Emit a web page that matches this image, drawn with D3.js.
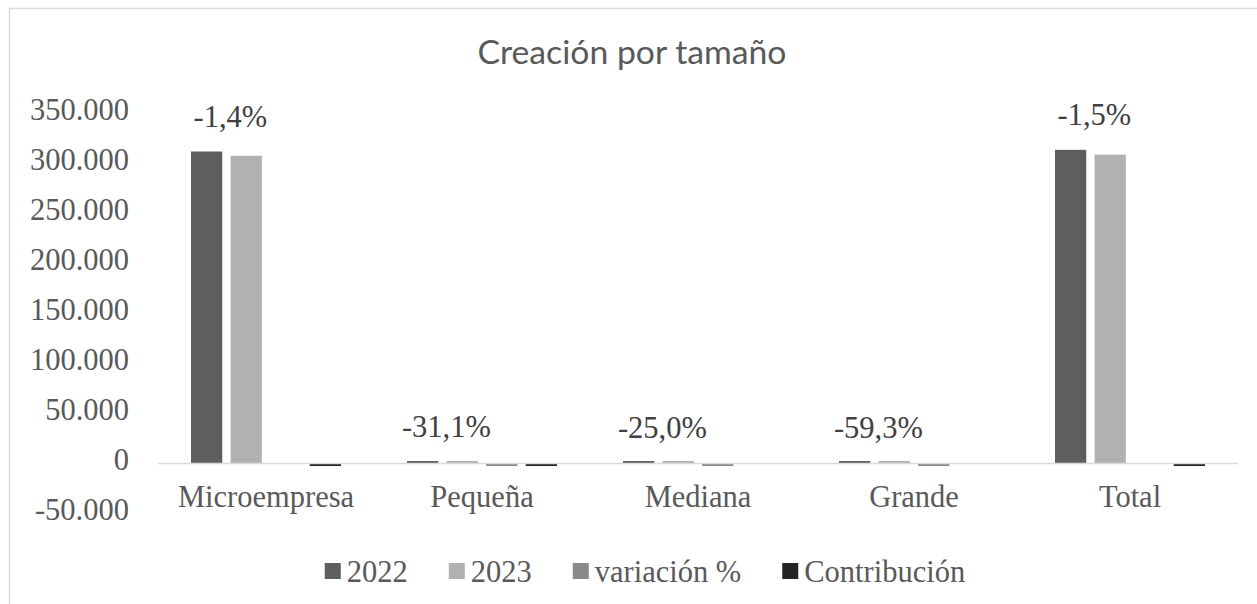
<!DOCTYPE html>
<html lang="es">
  <head>
    <meta charset="UTF-8" />
    <title>Creación por tamaño</title>
    <script src="https://d3js.org/d3.v7.min.js"></script>
    <style>
      body { margin: 0; background: #fff; }
    </style>
  </head>
  <body>
    <div id="chart"></div>
    <script>
      // datos
      var categories = ["Microempresa", "Pequeña", "Mediana", "Grande", "Total"];
      var series = ["2022", "2023", "variación %", "Contribución"];
      var values2022 = [312000, 1400, 220, 27, 313647];
      var values2023 = [307700, 965, 165, 11, 308841];
      var variation = [-0.014, -0.311, -0.25, -0.593, -0.015]; // fracción
      var contribution = [-1.37, -0.14, -0.02, -0.01, -1.53]; // puntos porcentuales
      var yTicks = [-50000, 0, 50000, 100000, 150000, 200000, 250000, 300000, 350000];

      var colors = ["#5e5e5e", "#b1b1b1", "#8a8a8a", "#232323"];
      var serif = "'Liberation Serif', 'Times New Roman', serif";

      var W = 1257, H = 604;
      var svg = d3.select("#chart").append("svg")
        .attr("width", W).attr("height", H);

      // borde del área del gráfico (recortado a la derecha y abajo)
      svg.append("rect")
        .attr("x", 9.5).attr("y", 8.5)
        .attr("width", 1400).attr("height", 800)
        .attr("fill", "#fff").attr("stroke", "#d9d9d9").attr("stroke-width", 1.5);

      // titulo
      svg.append("text")
        .attr("x", 632).attr("y", 64)
        .attr("text-anchor", "middle")
        .attr("font-family", "Lato, 'Open Sans', sans-serif")
        .attr("font-size", 32)
        .attr("fill", "#595959")
        .attr("textLength", 309)
        .attr("lengthAdjust", "spacingAndGlyphs")
        .text("Creación por tamaño");

      var x0 = d3.scaleBand().domain(categories).range([158, 1238]);
      var x1 = d3.scaleBand().domain(series).range([33, 183]).paddingInner(0.21);
      var y = d3.scaleLinear().domain([-50000, 350000]).range([513.5, 113.5]);

      var loc = d3.formatLocale({ decimal: ",", thousands: ".", grouping: [3], currency: ["", ""], minus: "-" });
      var fmt = loc.format(",.0f");

      // eje Y
      var gY = svg.append("g")
        .attr("transform", "translate(129,0)")
        .call(d3.axisLeft(y).tickValues(yTicks).tickSize(0).tickPadding(0).tickFormat(fmt));
      gY.select(".domain").remove();
      gY.selectAll("text")
        .attr("font-size", 30.5)
        .attr("font-family", serif)
        .attr("fill", "#595959")
        .attr("dy", "0.2em");

      // barras
      var rows = categories.map(function (c, i) {
        return { cat: c, vals: [values2022[i], values2023[i], variation[i], contribution[i]] };
      });
      var minVisible = 0.1; // Excel aún pinta una línea fina para estos valores diminutos
      function barH(v) {
        var h = Math.abs(y(v) - y(0));
        if (Math.abs(v) < minVisible) return 0;
        return Math.max(h, 2.5);
      }
      var groups = svg.append("g").selectAll("g")
        .data(rows).enter().append("g")
        .attr("transform", function (d) { return "translate(" + x0(d.cat) + ",0)"; });
      groups.selectAll("rect")
        .data(function (d) { return d.vals.map(function (v, j) { return { s: series[j], v: v, j: j }; }); })
        .enter().append("rect")
        .attr("x", function (d) { return x1(d.s); })
        .attr("width", x1.bandwidth())
        .attr("y", function (d) { return d.v >= 0 ? y(0) - barH(d.v) : y(0); })
        .attr("height", function (d) { return barH(d.v); })
        .attr("fill", function (d) { return colors[d.j]; });

      // linea del cero
      svg.append("line")
        .attr("x1", x0.range()[0]).attr("x2", x0.range()[1])
        .attr("y1", y(0)).attr("y2", y(0))
        .attr("stroke", "#d9d9d9").attr("stroke-width", 1.5);

      // eje X (etiquetas)
      var gX = svg.append("g")
        .attr("transform", "translate(0," + y(0) + ")")
        .call(d3.axisBottom(x0).tickSize(0));
      gX.select(".domain").remove();
      gX.selectAll("text")
        .attr("y", 43.5).attr("dy", 0)
        .attr("font-size", 30.5)
        .attr("font-family", serif)
        .attr("fill", "#595959");

      // etiquetas de variación
      svg.append("g").selectAll("text")
        .data(rows).enter().append("text")
        .attr("x", function (d) { return x0(d.cat) + (x1("2022") + x1("2023") + x1.bandwidth()) / 2 + 4; })
        .attr("y", function (d) { return y(Math.max(d.vals[0], d.vals[1])) - 25; })
        .attr("text-anchor", "middle")
        .attr("font-family", serif)
        .attr("font-size", 30.5)
        .attr("fill", "#404040")
        .text(function (d) { return (d.vals[2] * 100).toFixed(1).replace(".", ",") + "%"; });

      // leyenda
      var legend = svg.append("g");
      var lx = 0, gap = 41;
      series.forEach(function (s, i) {
        var it = legend.append("g").attr("transform", "translate(" + lx + ",0)");
        it.append("rect")
          .attr("x", 0).attr("y", -8).attr("width", 16).attr("height", 16)
          .attr("fill", colors[i]);
        var t = it.append("text")
          .attr("x", 22).attr("y", 11)
          .attr("font-family", serif)
          .attr("font-size", 30.5)
          .attr("fill", "#595959")
          .text(s);
        lx += 22 + t.node().getComputedTextLength() + gap;
      });
      var legendW = lx - gap;
      legend.attr("transform", "translate(" + (645 - legendW / 2) + ",571)");
    </script>
  </body>
</html>
